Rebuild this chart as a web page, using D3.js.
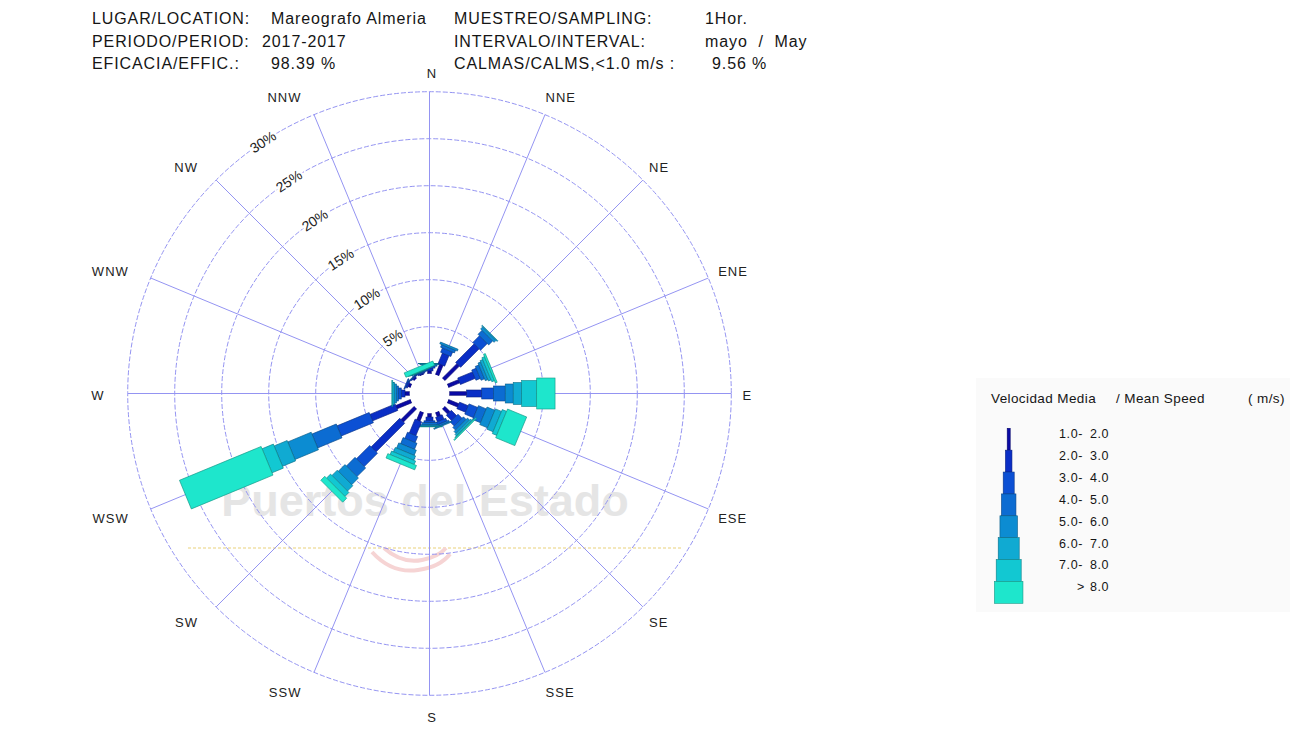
<!DOCTYPE html>
<html>
<head>
<meta charset="utf-8">
<script src="https://cdn.jsdelivr.net/npm/d3@7"></script>
<style>
  body { margin: 0; background: #fff; }
  svg { display: block; font-family: "Liberation Sans", Arial, sans-serif; }
</style>
</head>
<body>
<div class="container"></div>
<script>
// directions, clockwise from north
const directions = ["N", "NNE", "NE", "ENE", "E", "ESE", "SE", "SSE",
                    "S", "SSW", "SW", "WSW", "W", "WNW", "NW", "NNW"];

// frequency (%) of each speed class per direction
const spd1 = [0.30, 1.20, 2.20, 1.30, 1.85, 1.20, 0.80, 0.50, 0.40, 1.00, 2.00, 1.70, 0.50, 0.30, 0.20, 0.10];
const spd2 = [0.30, 1.20, 2.80, 1.70, 1.60, 1.00, 0.80, 0.50, 0.40, 1.60, 4.30, 2.90, 0.40, 0.20, 0.10, 0.10];
const spd3 = [0.20, 0.50, 1.00, 0.50, 1.25, 1.00, 0.60, 0.30, 0.20, 0.70, 2.00, 3.70, 0.30, 0.10, 0.05, 0.10];
const spd4 = [0.15, 0.30, 0.60, 0.40, 1.25, 0.90, 0.40, 0.20, 0.20, 0.70, 1.30, 2.80, 0.20, 0.00, 0.05, 0.05];
const spd5 = [0.10, 0.20, 0.30, 0.30, 0.85, 0.90, 0.30, 0.10, 0.15, 0.60, 1.00, 2.70, 0.20, 0.00, 0.00, 0.05];
const spd6 = [0.05, 0.00, 0.10, 0.30, 0.90, 0.70, 0.20, 0.00, 0.05, 0.50, 0.80, 1.50, 0.20, 0.00, 0.00, 0.02];
const spd7 = [0.00, 0.00, 0.00, 0.30, 1.60, 0.50, 0.10, 0.00, 0.05, 0.40, 0.60, 1.30, 0.10, 0.00, 0.00, 0.03];
const spd8 = [0.00, 0.00, 0.00, 0.20, 1.95, 2.20, 0.10, 0.00, 0.00, 0.50, 0.60, 9.40, 0.00, 0.00, 0.00, 0.50];

const speedLabels = [["1.0-", "2.0"], ["2.0-", "3.0"], ["3.0-", "4.0"], ["4.0-", "5.0"],
                     ["5.0-", "6.0"], ["6.0-", "7.0"], ["7.0-", "8.0"], [">", "8.0"]];

const ringValues = [5, 10, 15, 20, 25, 30];

const headerLeft = [["LUGAR/LOCATION:", "Mareografo Almeria"],
                    ["PERIODO/PERIOD:", "2017-2017"],
                    ["EFICACIA/EFFIC.:", "98.39 %"]];
const headerRight = [["MUESTREO/SAMPLING:", "1Hor."],
                     ["INTERVALO/INTERVAL:", "mayo  /  May"],
                     ["CALMAS/CALMS,<1.0 m/s  :", "9.56 %"]];

const series = [spd1, spd2, spd3, spd4, spd5, spd6, spd7, spd8];

const w = 1298;
const h = 754;
const cx = 429.5;
const cy = 393.5;

/* colours and widths of the speed classes */
const colors = ["#0a0aa6", "#0a2ec6", "#0c50d4", "#0c6cd2", "#0c8cd2", "#10aad2", "#12c8d2", "#1ee6cc"];
const roseWidth = [3.5, 7, 11, 15, 19, 22, 26, 31];
const legendWidth = [3, 6.5, 11, 14.5, 17.5, 21, 25, 28.5];
const gridColor = "#9494f2";

const rScale = d3.scaleLinear().domain([0, 30]).range([19.8, 301.8]);
const aScale = d3.scalePoint().domain(directions).range([0, 337.5]);

const svg = d3.select(".container")
              .append("svg")
              .attr("width", w)
              .attr("height", h);

svg.append("rect").attr("width", w).attr("height", h).attr("fill", "#fff");

/* watermark */
const mark = svg.append("g").attr("class", "watermark");
mark.append("text")
    .attr("x", 425).attr("y", 516)
    .attr("text-anchor", "middle")
    .attr("font-size", 45).attr("font-weight", "bold")
    .attr("fill", "#e5e5e5")
    .text("Puertos del Estado");
mark.append("line")
    .attr("x1", 188).attr("x2", 682).attr("y1", 548).attr("y2", 548)
    .attr("stroke", "#f4e8bc").attr("stroke-width", 2)
    .attr("stroke-dasharray", "3,2");
mark.append("path")
    .attr("d", "M372,552 q20,22 46,18 q22,-3 32,-16 M384,548 q18,16 38,12 q16,-3 24,-12")
    .attr("fill", "none").attr("stroke", "#f6d4d4").attr("stroke-width", 4);

/* polar grid */
const rose = svg.append("g").attr("transform", "translate(" + cx + "," + cy + ")");
const grid = rose.append("g").attr("class", "grid");

grid.selectAll("line")
    .data(directions)
    .enter()
    .append("line")
    .attr("x1", 0).attr("y1", 0)
    .attr("x2", (d) => rScale(30) * Math.sin(aScale(d) * Math.PI / 180))
    .attr("y2", (d) => -rScale(30) * Math.cos(aScale(d) * Math.PI / 180))
    .attr("stroke", gridColor)
    .attr("stroke-width", 1);

grid.selectAll("circle")
    .data(ringValues)
    .enter()
    .append("circle")
    .attr("r", (d) => rScale(d))
    .attr("fill", "none")
    .attr("stroke", gridColor)
    .attr("stroke-width", 1)
    .attr("stroke-dasharray", "5,2");

/* bars: one stacked column of speed classes per direction */
const stacks = directions.map((dir, i) => {
    const vals = series.map((s) => s[i]);
    const ends = Array.from(d3.cumsum(vals));
    return vals.map((v, k) => ({dir: dir, k: k, start: ends[k] - v, end: ends[k]}))
               .filter((seg) => seg.end > seg.start);
});

rose.selectAll("g.dir")
    .data(stacks)
    .enter()
    .append("g")
    .attr("class", "dir")
    .attr("transform", (d, i) => "rotate(" + aScale(directions[i]) + ")")
    .selectAll("rect")
    .data((d) => d)
    .enter()
    .append("rect")
    .attr("x", (d) => -roseWidth[d.k] / 2)
    .attr("y", (d) => -rScale(d.end))
    .attr("width", (d) => roseWidth[d.k])
    .attr("height", (d) => rScale(d.end) - rScale(d.start))
    .attr("fill", (d) => colors[d.k])
    .attr("stroke", (d) => d3.color(colors[d.k]).darker(1.2))
    .attr("stroke-width", 0.6);

/* calm circle */
rose.append("circle").attr("r", rScale(0)).attr("fill", "#fff");

/* ring labels */
const labelAngle = -33.5;
rose.selectAll("text.ring")
    .data(ringValues)
    .enter()
    .append("text")
    .attr("class", "ring")
    .attr("transform", (d) => "rotate(" + labelAngle + ") translate(0," + (-rScale(d)) + ")")
    .attr("text-anchor", "middle")
    .attr("dominant-baseline", "central")
    .attr("font-size", 14)
    .attr("fill", "#222")
    .attr("stroke", "#fff")
    .attr("stroke-width", 5)
    .attr("paint-order", "stroke")
    .text((d) => d + "%");

/* direction labels */
rose.selectAll("text.dir")
    .data(directions)
    .enter()
    .append("text")
    .attr("class", "dir")
    .attr("x", (d) => {
        const s = Math.sin(aScale(d) * Math.PI / 180);
        return Math.abs(s) < 0.01 ? 2.5 : -6 + 319 * s;
    })
    .attr("y", (d) => 1.5 - 322 * Math.cos(aScale(d) * Math.PI / 180))
    .attr("text-anchor", (d) => {
        const s = Math.sin(aScale(d) * Math.PI / 180);
        return Math.abs(s) < 0.01 ? "middle" : (s > 0 ? "start" : "end");
    })
    .attr("dominant-baseline", "central")
    .attr("font-size", 13)
    .attr("letter-spacing", 1)
    .attr("fill", "#222")
    .text((d) => d);

/* header */
const header = svg.append("g").attr("font-size", 16).attr("fill", "#151515").attr("letter-spacing", 0.9);
headerLeft.forEach((row, i) => {
    header.append("text").attr("x", 92).attr("y", 24 + i * 22.5).text(row[0]);
    header.append("text").attr("x", i == 1 ? 262 : 271).attr("y", 24 + i * 22.5).text(row[1]);
});
headerRight.forEach((row, i) => {
    header.append("text").attr("x", 454).attr("y", 24 + i * 22.5).text(row[0]);
    header.append("text").attr("x", i == 2 ? 712 : 705).attr("y", 24 + i * 22.5)
          .attr("xml:space", "preserve").style("white-space", "pre").text(row[1]);
});

/* legend */
const legend = svg.append("g").attr("class", "legend");
legend.append("rect")
      .attr("x", 976).attr("y", 378).attr("width", 314).attr("height", 234)
      .attr("fill", "#fafafa");
legend.append("text").attr("x", 991).attr("y", 403).attr("font-size", 13.5).attr("letter-spacing", 0.4)
      .attr("fill", "#151515").text("Velocidad Media");
legend.append("text").attr("x", 1116).attr("y", 403).attr("font-size", 13.5).attr("letter-spacing", 0.4)
      .attr("fill", "#151515").text("/ Mean Speed");
legend.append("text").attr("x", 1248).attr("y", 403).attr("font-size", 13.5).attr("letter-spacing", 0.4)
      .attr("fill", "#151515").text("( m/s)");

const ly = d3.scaleBand().domain(d3.range(speedLabels.length)).range([428.3, 603.3]).padding(0);
const lx = 1008.7;

legend.selectAll("rect.key")
      .data(speedLabels)
      .enter()
      .append("rect")
      .attr("class", "key")
      .attr("x", (d, i) => lx - legendWidth[i] / 2)
      .attr("y", (d, i) => ly(i))
      .attr("width", (d, i) => legendWidth[i])
      .attr("height", ly.bandwidth())
      .attr("fill", (d, i) => colors[i])
      .attr("stroke", (d, i) => d3.color(colors[i]).darker(1.2))
      .attr("stroke-width", 0.6);

const keyText = legend.selectAll("g.keytext")
      .data(speedLabels)
      .enter()
      .append("g")
      .attr("class", "keytext")
      .attr("font-size", 12.5)
      .attr("letter-spacing", 0.6)
      .attr("fill", "#151515");
keyText.append("text")
       .attr("x", (d, i) => i == 7 ? 1085 : 1083)
       .attr("y", (d, i) => ly(i) + ly.bandwidth() / 2 - 1)
       .attr("text-anchor", "end")
       .text((d) => d[0]);
keyText.append("text")
       .attr("x", 1090)
       .attr("y", (d, i) => ly(i) + ly.bandwidth() / 2 - 1)
       .text((d) => d[1]);
</script>
</body>
</html>
